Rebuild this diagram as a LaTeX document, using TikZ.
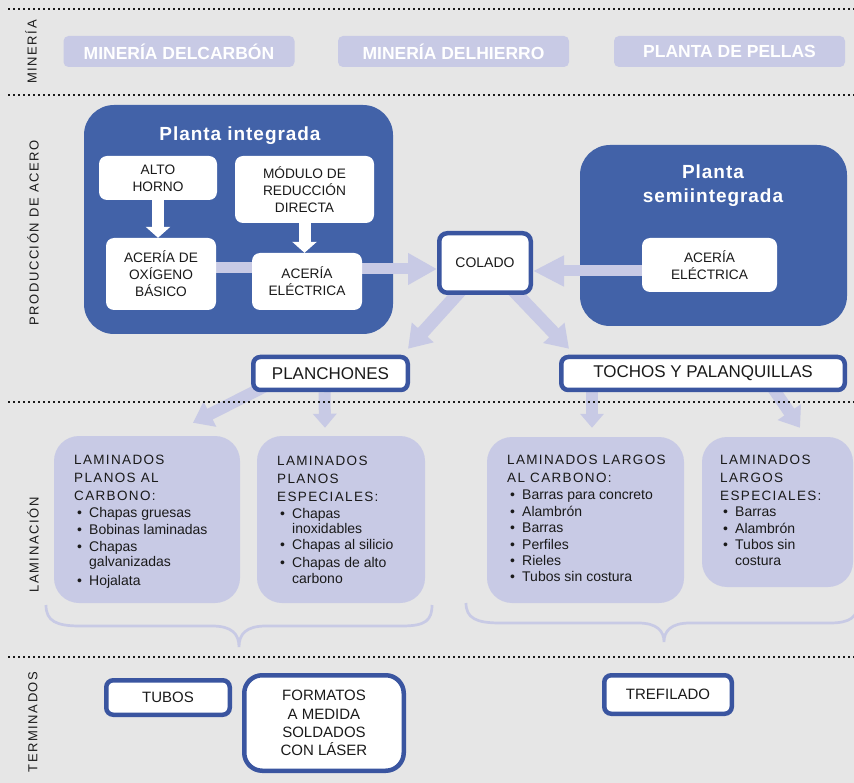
\documentclass[tikz,border=0pt]{standalone}
\usepackage{fontspec}
\setmainfont{Liberation Sans}
\newfontfamily\trk[LetterSpace=10]{Liberation Sans}
\newfontfamily\trkl[LetterSpace=12]{Liberation Sans}
\newfontfamily\trkb[LetterSpace=5]{Liberation Sans}
\usetikzlibrary{arrows.meta,calc}
\definecolor{bgc}{HTML}{E6E6E6}
\definecolor{dblue}{HTML}{4262A8}
\definecolor{lav}{HTML}{C8CAE5}
\definecolor{bblue}{HTML}{3A55A0}
\definecolor{txt}{HTML}{1A1A1A}
\pgfdeclarelayer{plantlayer}
\pgfdeclarelayer{arrowlayer}
\pgfsetlayers{plantlayer,arrowlayer,main}
\newcommand\itm[1]{\hspace*{3pt}\makebox[12pt][l]{•}#1}
\newcommand\cnt[1]{\hspace*{15pt}#1}
\begin{document}
\begin{tikzpicture}[x=1pt,y=-1pt,
  lbl/.style={rotate=90, font=\trkl\fontsize{13}{13}\selectfont, text=txt, inner sep=0pt},
  mine/.style={fill=lav, rounded corners=5pt, text=white, font=\bfseries\fontsize{17.5}{18}\selectfont, inner sep=0pt, minimum width=231pt, minimum height=31pt},
  plant/.style={fill=dblue, rounded corners=30pt, inner sep=0pt},
  ttl/.style={text=white, font=\trkb\bfseries\fontsize{19}{24}\selectfont, inner sep=0pt},
  wbox/.style={fill=white, rounded corners=8pt, align=center, text=txt, font=\fontsize{13.7}{17}\selectfont, inner sep=0pt},
  bbox/.style={fill=white, draw=bblue, line width=4.5pt, rounded corners=8pt, align=center, text=txt, inner sep=0pt},
  lam/.style={fill=lav, rounded corners=25pt, inner sep=0pt},
  lamtext/.style={align=left, text=txt, font=\fontsize{14}{16}\selectfont, inner sep=0pt, anchor=west},
  flow/.style={draw=lav, line width=11pt},
  wflow/.style={draw=white, line width=12pt, -{Triangle[width=24pt,length=11pt]}},
  brace/.style={draw=lav, line width=2.7pt},
  dotline/.style={draw=txt, line width=1.3pt, dash pattern=on 1.5pt off 3.5pt}]
\useasboundingbox (0,0) rectangle (854,783);
\begin{pgfonlayer}{plantlayer}
\fill[bgc] (0,0) rectangle (854,783);
\end{pgfonlayer}
% dotted separators
\draw[dotline] (8,9) -- (854,9);
\draw[dotline] (8,95) -- (854,95);
\draw[dotline] (8,402) -- (854,402);
\draw[dotline] (8,657) -- (854,657);
% section labels
\node[lbl] (lmin) at (31,52) {MINERÍA};
\node[lbl] (lprod) at (33,233) {PRODUCCIÓN DE ACERO};
\node[lbl] (llam) at (33,545) {LAMINACIÓN};
\node[lbl] (lter) at (33,722) {TERMINADOS};
% mining
\node[mine] (m1) at (179,51.5) {MINERÍA DELCARBÓN};
\node[mine] (m2) at (453.5,51.5) {MINERÍA DELHIERRO};
\node[mine] (m3) at (729.5,51.5) {PLANTA DE PELLAS};
% plants
\begin{pgfonlayer}{plantlayer}
\node[plant, minimum width=309pt, minimum height=229pt] (pint) at (238.5,219.5) {};
\node[plant, minimum width=267pt, minimum height=181pt] (psemi) at (713.5,235.5) {};
\end{pgfonlayer}
\node[ttl, anchor=base] (tint) at (240,141) {Planta integrada};
\node[ttl, anchor=base] (tsemi1) at (713,179) {Planta};
\node[ttl, anchor=base] (tsemi2) at (713,203) {semiintegrada};
% white boxes
\node[wbox, minimum width=118pt, minimum height=44pt] (alto) at (158,178) {ALTO\\HORNO};
\node[wbox, minimum width=139pt, minimum height=67pt] (mod) at (304.5,189.5) {MÓDULO DE\\REDUCCIÓN\\DIRECTA};
\node[wbox, minimum width=110pt, minimum height=72pt] (aob) at (161,274) {ACERÍA DE\\OXÍGENO\\BÁSICO};
\node[wbox, minimum width=110pt, minimum height=57pt] (ael) at (307,281.5) {ACERÍA\\ELÉCTRICA};
\node[wbox, minimum width=135pt, minimum height=54pt] (sael) at (709.5,265) {ACERÍA\\ELÉCTRICA};
% blue-bordered boxes
\node[bbox, minimum width=91.5pt, minimum height=59.5pt, font=\fontsize{14}{17}\selectfont] (colado) at (485,263) {COLADO};
\node[bbox, minimum width=154.5pt, minimum height=33pt, rounded corners=7pt, font=\fontsize{17}{20}\selectfont] (planch) at (330.5,373.5) {PLANCHONES};
\node[bbox, minimum width=283.5pt, minimum height=33pt, rounded corners=7pt, font=\fontsize{17}{20}\selectfont] (tochos) at (703,373.5) {TOCHOS Y PALANQUILLAS};
% laminados
\node[lam, minimum width=186pt, minimum height=167pt] (l1) at (147,519.5) {};
\node[lam, minimum width=168pt, minimum height=167pt] (l2) at (341,519.5) {};
\node[lam, minimum width=197pt, minimum height=166pt] (l3) at (585.5,520) {};
\node[lam, minimum width=151pt, minimum height=150pt] (l4) at (777.5,512) {};
\node[lamtext] (l1t) at (74,521.5) {{\trk\fontsize{13.5}{16}\selectfont LAMINADOS}\\[2pt]{\trk\fontsize{13.5}{16}\selectfont PLANOS AL}\\[2pt]{\trk\fontsize{13.5}{16}\selectfont CARBONO:}\\[1pt]\itm{Chapas gruesas}\\[1pt]\itm{Bobinas laminadas}\\[1pt]\itm{Chapas}\\[-1pt]\cnt{galvanizadas}\\[3pt]\itm{Hojalata}};
\node[lamtext] (l2t) at (277,519.5) {{\trk\fontsize{13.5}{16}\selectfont LAMINADOS}\\[2pt]{\trk\fontsize{13.5}{16}\selectfont PLANOS}\\[2pt]{\trk\fontsize{13.5}{16}\selectfont ESPECIALES:}\\[1pt]\itm{Chapas}\\[-1pt]\cnt{inoxidables}\\[0pt]\itm{Chapas al silicio}\\[2pt]\itm{Chapas de alto}\\[0pt]\cnt{carbono}};
\node[lamtext] (l3t) at (507,518) {{\trk\fontsize{13.5}{16}\selectfont LAMINADOS LARGOS}\\[2pt]{\trk\fontsize{13.5}{16}\selectfont AL CARBONO:}\\[1pt]\itm{Barras para concreto}\\[1pt]\itm{Alambrón}\\[0pt]\itm{Barras}\\[1pt]\itm{Perfiles}\\[0pt]\itm{Rieles}\\[0pt]\itm{Tubos sin costura}};
\node[lamtext] (l4t) at (720,510) {{\trk\fontsize{13.5}{16}\selectfont LAMINADOS}\\[2pt]{\trk\fontsize{13.5}{16}\selectfont LARGOS}\\[2pt]{\trk\fontsize{13.5}{16}\selectfont ESPECIALES:}\\[0pt]\itm{Barras}\\[1pt]\itm{Alambrón}\\[0pt]\itm{Tubos sin}\\[0pt]\cnt{costura}};
% terminados
\node[bbox, minimum width=123.5pt, minimum height=34.5pt, rounded corners=7pt, font=\fontsize{15}{18}\selectfont] (tubos) at (168,697.5) {TUBOS};
\node[bbox, minimum width=159.5pt, minimum height=95.5pt, rounded corners=18pt, font=\fontsize{15}{18.3}\selectfont] (form) at (324,723) {FORMATOS\\A MEDIDA\\SOLDADOS\\CON LÁSER};
\node[bbox, minimum width=127.5pt, minimum height=38.5pt, rounded corners=7pt, font=\fontsize{15}{18}\selectfont] (tref) at (668,694.5) {TREFILADO};
% connectors
\coordinate (ya) at (0,268);
\coordinate (yb) at (0,269);
\coordinate (yc) at (0,271);
\begin{pgfonlayer}{arrowlayer}
\draw[flow] (aob.east |- ya) -- (ael.west |- ya);
\draw[flow, -{Triangle[width=30pt,length=29pt]}] (ael.east |- yb) -- (colado.west |- yb);
\draw[flow, -{Triangle[width=29pt,length=31pt]}] (sael.west |- yc) -- (colado.east |- yc);
\draw[flow, line width=13pt, -{Triangle[width=28pt,length=22pt]}] ([xshift=-23pt,yshift=6pt]colado.south) -- ([xshift=-2pt,yshift=6pt]planch.north east);
\draw[flow, line width=13pt, -{Triangle[width=28pt,length=22pt]}] ([xshift=27pt,yshift=6pt]colado.south) -- ([xshift=10pt,yshift=6pt]tochos.north west);
\draw[flow, line width=12pt, -{Triangle[width=27pt,length=19pt]}] ([xshift=14pt,yshift=6pt]planch.south west) -- ([xshift=46pt,yshift=13pt]l1.north);
\draw[flow, line width=12pt, -{Triangle[width=23pt,length=14pt]}] ([xshift=-6pt]planch.south) -- ([xshift=-16pt,yshift=8pt]l2.north);
\draw[flow, line width=12pt, -{Triangle[width=23pt,length=14pt]}] ([xshift=-111pt]tochos.south) -- ([xshift=6.5pt,yshift=9pt]l3.north);
\draw[flow, line width=12pt, -{Triangle[width=27pt,length=19pt]}] ([xshift=70pt,yshift=4pt]tochos.south) -- ([xshift=22.5pt,yshift=9pt]l4.north);
\end{pgfonlayer}
\draw[wflow] (alto.south) -- (alto.south |- aob.north);
\draw[wflow] (mod.south) -- (mod.south |- ael.north);
% braces
\draw[brace] (46,605) .. controls (46,621) and (56,626) .. (80,626) -- (212,626) .. controls (232,626) and (239,634) .. (239,647) .. controls (239,634) and (246,626) .. (266,626) -- (402,626) .. controls (426,626) and (432,620) .. (432,605);
\draw[brace] (466,603) .. controls (466,618) and (476,623) .. (500,623) -- (638,623) .. controls (657,623) and (664,631) .. (664,642) .. controls (664,631) and (671,623) .. (690,623) -- (830,623) .. controls (850,623) and (858,617) .. (858,603);
\end{tikzpicture}
\end{document}
